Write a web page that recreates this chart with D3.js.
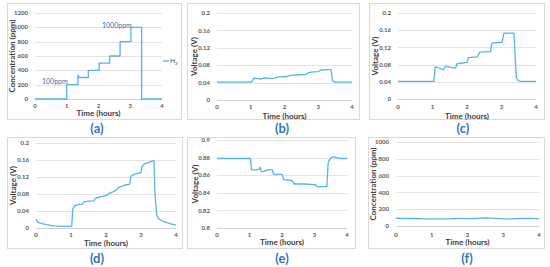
<!DOCTYPE html>
<html>
<head>
<meta charset="utf-8">
<script src="https://cdn.jsdelivr.net/npm/d3@7"></script>
<style>
  body { margin: 0; background: #fff; }
  svg { display: block; font-family: Lato, "Open Sans", sans-serif; }
</style>
</head>
<body>
<div id="chart"></div>
<script>
// ---- data ----
const aTime = [0, 1, 1, 1.35, 1.35, 1.37, 1.37, 1.68, 1.68, 2.02, 2.02, 2.35, 2.35, 2.68, 2.68, 3.02, 3.02, 3.36, 3.36, 4];
const aConc = [0, 0, 200, 200, 330, 330, 300, 300, 400, 400, 500, 500, 600, 600, 800, 800, 1000, 1000, 0, 0];

const bTime = [0, 1.03, 1.08, 1.2, 1.3, 1.4, 1.5, 1.65, 1.75, 1.85, 2.05, 2.15, 2.3, 2.45, 2.65, 2.72, 2.78, 3.0, 3.05, 3.1, 3.32, 3.38, 3.42, 3.5, 4];
const bVolt = [0.041, 0.041, 0.05, 0.049, 0.048, 0.051, 0.05, 0.049, 0.052, 0.053, 0.054, 0.056, 0.057, 0.058, 0.059, 0.063, 0.064, 0.065, 0.068, 0.069, 0.07, 0.07, 0.045, 0.041, 0.041];

const cTime = [0, 1.04, 1.08, 1.2, 1.32, 1.37, 1.5, 1.67, 1.71, 2.0, 2.04, 2.3, 2.37, 2.68, 2.72, 3.02, 3.07, 3.36, 3.43, 3.48, 3.55, 4];
const cVolt = [0.041, 0.041, 0.075, 0.072, 0.068, 0.076, 0.074, 0.072, 0.082, 0.085, 0.096, 0.098, 0.109, 0.110, 0.130, 0.132, 0.153, 0.153, 0.05, 0.043, 0.041, 0.041];

const dTime = [0, 0.05, 0.15, 0.3, 0.5, 0.8, 1.02, 1.05, 1.1, 1.2, 1.33, 1.36, 1.5, 1.66, 1.7, 1.85, 2.0, 2.1, 2.2, 2.3, 2.35, 2.5, 2.68, 2.71, 2.8, 3.0, 3.03, 3.1, 3.25, 3.37, 3.4, 3.45, 3.5, 3.6, 3.8, 4];
const dVolt = [0.021, 0.014, 0.011, 0.008, 0.005, 0.004, 0.004, 0.045, 0.052, 0.055, 0.056, 0.061, 0.063, 0.064, 0.07, 0.073, 0.076, 0.082, 0.085, 0.089, 0.095, 0.1, 0.103, 0.122, 0.126, 0.131, 0.145, 0.151, 0.155, 0.159, 0.08, 0.03, 0.022, 0.017, 0.011, 0.007];

const eTime = [0, 1.03, 1.06, 1.2, 1.3, 1.33, 1.36, 1.42, 1.55, 1.7, 1.74, 2.0, 2.05, 2.3, 2.38, 2.7, 3.05, 3.08, 3.38, 3.42, 3.48, 3.58, 3.75, 4];
const eVolt = [0.879, 0.879, 0.866, 0.866, 0.867, 0.869, 0.864, 0.864, 0.866, 0.866, 0.861, 0.861, 0.855, 0.854, 0.85, 0.85, 0.849, 0.847, 0.847, 0.874, 0.879, 0.881, 0.879, 0.879];

const fTime = [0, 0.25, 0.5, 0.75, 1, 1.25, 1.5, 1.75, 2, 2.25, 2.5, 2.75, 3, 3.25, 3.5, 3.75, 4];
const fConc = [92, 90, 89, 86, 84, 85, 86, 89, 87, 91, 96, 90, 86, 84, 89, 90, 88];

const xTicks = [0, 1, 2, 3, 4];
const concTicks = [0, 200, 400, 600, 800, 1000, 1200];
const concTicksF = [0, 200, 400, 600, 800, 1000];
const voltTicks = [0, 0.04, 0.08, 0.12, 0.16, 0.2];
const voltTicksE = [0.8, 0.82, 0.84, 0.86, 0.88, 0.9];
const panelLabels = ["(a)", "(b)", "(c)", "(d)", "(e)", "(f)"];

const lineColor = "#56b4e6";
const blue = "#2e75b6";

const width = 550, height = 267;

const svg = d3.select("#chart").append("svg")
  .attr("width", width)
  .attr("height", height);

// layout for each panel: box, plot area, label spots
const panels = [
  { t: aTime, v: aConc, ticks: concTicks, fmt: d3.format("d"), title: "Concentration (ppm)",
    box: [7, 3, 181, 119], plot: [35, 13, 162, 99], ytx: 12, xty: 113, xtk: 106, lab: [97, 128] },
  { t: bTime, v: bVolt, ticks: voltTicks, fmt: d => d3.format("~g")(d), title: "Voltage (V)",
    box: [187, 3, 359, 119], plot: [217, 13, 352, 100], ytx: 194, xty: 116, xtk: 107, lab: [282, 128] },
  { t: cTime, v: cVolt, ticks: voltTicks, fmt: d => d3.format("~g")(d), title: "Voltage (V)",
    box: [369, 3, 544, 119], plot: [398, 13, 536, 99], ytx: 375, xty: 116, xtk: 107, lab: [463, 128] },
  { t: dTime, v: dVolt, ticks: voltTicks, fmt: d => d3.format("~g")(d), title: "Voltage (V)",
    box: [7, 137, 182, 248], plot: [36, 143, 176, 228], ytx: 13, xty: 243, xtk: 235, lab: [97, 258] },
  { t: eTime, v: eVolt, ticks: voltTicksE, fmt: d => d3.format("~g")(d), title: "Voltage (V)",
    box: [187, 137, 355, 248], plot: [217, 140, 347, 228], ytx: 195, xty: 242, xtk: 235, lab: [282, 258] },
  { t: fTime, v: fConc, ticks: concTicksF, fmt: d3.format("d"), title: "Concentration (ppm)",
    box: [368, 137, 544, 248], plot: [396, 142, 539, 226], ytx: 373, xty: 242, xtk: 235, lab: [467, 258] }
];

panels.forEach(function(p, i) {
  const g = svg.append("g");
  const [l, t, r, b] = p.plot;

  g.append("rect")
    .attr("x", p.box[0] + 0.5).attr("y", p.box[1] + 0.5)
    .attr("width", p.box[2] - p.box[0]).attr("height", p.box[3] - p.box[1])
    .attr("fill", "none").attr("stroke", "#d9d9d9");

  const x = d3.scaleLinear().domain([0, 4]).range([l, r]);
  const y = d3.scaleLinear().domain(d3.extent(p.ticks)).range([b, t]);

  // gridlines
  g.append("g").selectAll("line")
    .data(p.ticks.slice(1))
    .join("line")
    .attr("x1", l).attr("x2", r)
    .attr("y1", d => Math.round(y(d)) + 0.5).attr("y2", d => Math.round(y(d)) + 0.5)
    .attr("stroke", "#e3e3e3");

  // x axis line
  g.append("line")
    .attr("x1", l).attr("x2", r)
    .attr("y1", Math.round(b) + 0.5).attr("y2", Math.round(b) + 0.5)
    .attr("stroke", "#d0d0d0");

  // y tick labels
  g.append("g").selectAll("text")
    .data(p.ticks)
    .join("text")
    .attr("x", l - 7)
    .attr("y", d => y(d))
    .attr("dy", "0.35em")
    .attr("text-anchor", "end")
    .attr("font-size", "6px")
    .attr("font-weight", "700")
    .attr("fill", "#595959")
    .text(p.fmt);

  // x tick labels
  g.append("g").selectAll("text")
    .data(xTicks)
    .join("text")
    .attr("x", d => x(d))
    .attr("y", p.xtk)
    .attr("dy", "0.35em")
    .attr("text-anchor", "middle")
    .attr("font-size", "6px")
    .attr("font-weight", "700")
    .attr("fill", "#595959")
    .text(d => d);

  // axis titles
  g.append("text")
    .attr("x", (l + r) / 2)
    .attr("y", p.xty)
    .attr("dy", "0.35em")
    .attr("text-anchor", "middle")
    .attr("font-size", "8px")
    .attr("font-weight", "700")
    .attr("fill", "#404040")
    .text("Time (hours)");

  g.append("text")
    .attr("transform", "translate(" + p.ytx + "," + ((t + b) / 2) + ") rotate(-90)")
    .attr("dy", "0.35em")
    .attr("text-anchor", "middle")
    .attr("font-size", "8px")
    .attr("font-weight", "700")
    .attr("fill", "#404040")
    .text(p.title);

  // the curve
  const line = d3.line()
    .x(d => x(d[0]))
    .y(d => y(d[1]));

  g.append("path")
    .datum(d3.zip(p.t, p.v))
    .attr("fill", "none")
    .attr("stroke", lineColor)
    .attr("stroke-width", 1.3)
    .attr("stroke-linejoin", "round")
    .attr("d", line);

  // panel letter
  g.append("text")
    .attr("x", p.lab[0])
    .attr("y", p.lab[1])
    .attr("dy", "0.35em")
    .attr("text-anchor", "middle")
    .attr("font-size", "13px")
    .attr("font-weight", "700")
    .attr("fill", blue)
    .text(panelLabels[i]);

  p.x = x; p.y = y;
});

// annotations on panel (a)
const pa = panels[0];
svg.append("text")
  .attr("x", 42).attr("y", 82)
  .attr("dy", "0.35em")
  .attr("font-size", "7px")
  .attr("fill", blue)
  .text("100ppm");

svg.append("text")
  .attr("x", 102).attr("y", 26)
  .attr("dy", "0.35em")
  .attr("font-size", "7px")
  .attr("fill", blue)
  .text("1000ppm");

// legend
svg.append("line")
  .attr("x1", 163).attr("x2", 169)
  .attr("y1", 61).attr("y2", 61)
  .attr("stroke", lineColor)
  .attr("stroke-width", 1.3);

const leg = svg.append("text")
  .attr("x", 170).attr("y", 61)
  .attr("dy", "0.35em")
  .attr("font-size", "6.5px")
  .attr("fill", "#404040");
leg.append("tspan").text("H");
leg.append("tspan").attr("font-size", "4.5px").attr("dy", "1.5").text("2");
</script>
</body>
</html>
